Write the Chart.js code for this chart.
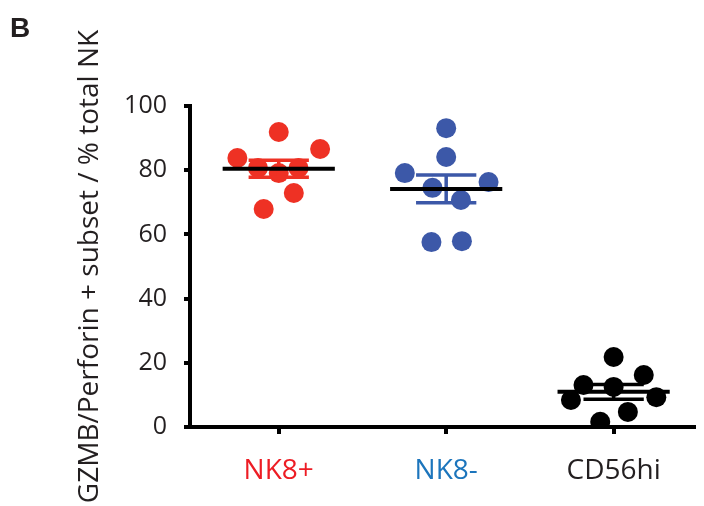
<!DOCTYPE html>
<html>
<head>
<meta charset="utf-8">
<script src="https://cdn.jsdelivr.net/npm/chart.js@4/dist/chart.umd.min.js"></script>
<style>
  html, body { margin: 0; padding: 0; background: #fff; }
  #wrap { position: relative; width: 704px; height: 506px; }
</style>
</head>
<body>
<div id="wrap"><canvas id="c"></canvas></div>
<script>
// ---- data ----
const categories = ['NK8+', 'NK8-', 'CD56hi'];
const nk8posValues = [91.9, 83.8, 86.6, 80.7, 79.1, 80.7, 72.9, 67.9];
const nk8negValues = [93.1, 84.1, 79.1, 76.3, 74.5, 70.7, 57.6, 57.9];
const cd56hiValues = [21.8, 16.2, 13.1, 12.5, 9.3, 8.4, 4.7, 1.6];
// horizontal scatter (beeswarm) offsets of each point within its column
const nk8posJitter = [0, -0.247, 0.247, -0.124, 0, 0.118, 0.09, -0.09];
const nk8negJitter = [0, 0, -0.247, 0.253, -0.082, 0.088, -0.088, 0.094];
const cd56hiJitter = [0, 0.18, -0.18, 0, 0.255, -0.255, 0.085, -0.08];
const yTicks = [0, 20, 40, 60, 80, 100];

const pointColors = ['#ee3124', '#3c58a8', '#000000'];
const labelColors = ['#ed1c24', '#1c75bc', '#231f20'];
const semColors = ['#ee3124', '#3c58a8', '#000000'];

const groups = [
  { values: nk8posValues, jitter: nk8posJitter },
  { values: nk8negValues, jitter: nk8negJitter },
  { values: cd56hiValues, jitter: cd56hiJitter }
];

function mean(a) { return a.reduce((s, v) => s + v, 0) / a.length; }
function sem(a) {
  const m = mean(a);
  const v = a.reduce((s, x) => s + (x - m) * (x - m), 0) / (a.length - 1);
  return Math.sqrt(v) / Math.sqrt(a.length);
}

const MEAN_HALF = 0.335, CAP_HALF = 0.18;
const datasets = [];
groups.forEach((g, i) => {
  const cx = i + 1;
  datasets.push({
    type: 'scatter',
    data: g.values.map((v, k) => ({ x: cx + g.jitter[k], y: v })),
    backgroundColor: pointColors[i],
    borderWidth: 0,
    pointRadius: 10,
    pointHoverRadius: 10,
    order: 2
  });
  const m = mean(g.values), s = sem(g.values);
  datasets.push({
    type: 'line',
    data: [
      { x: cx - CAP_HALF, y: m + s }, { x: cx + CAP_HALF, y: m + s }, { x: cx, y: null },
      { x: cx, y: m + s }, { x: cx, y: m - s }, { x: cx, y: null },
      { x: cx - CAP_HALF, y: m - s }, { x: cx + CAP_HALF, y: m - s }
    ],
    borderColor: semColors[i],
    borderWidth: 3.5,
    pointRadius: 0,
    spanGaps: false,
    order: 1
  });
  datasets.push({
    type: 'line',
    data: [{ x: cx - MEAN_HALF, y: m }, { x: cx + MEAN_HALF, y: m }],
    borderColor: '#000000',
    borderWidth: 4,
    pointRadius: 0,
    order: 0
  });
});

const panelLetter = {
  id: 'panelLetter',
  afterDraw(chart) {
    const ctx = chart.ctx;
    ctx.save();
    ctx.fillStyle = '#231f20';
    ctx.font = 'bold 28px "Liberation Sans", "Open Sans", sans-serif';
    ctx.textBaseline = 'alphabetic';
    ctx.textAlign = 'left';
    ctx.fillText('B', 10, 37);
    ctx.restore();
  }
};

new Chart(document.getElementById('c'), {
  type: 'scatter',
  data: { datasets },
  plugins: [panelLetter],
  options: {
    responsive: true,
    maintainAspectRatio: false,
    animation: false,
    layout: { padding: { top: 106, right: 4, left: 0, bottom: 0 } },
    plugins: { legend: { display: false }, tooltip: { enabled: false } },
    scales: {
      x: {
        type: 'linear',
        min: 0.47,
        max: 3.48,
        afterBuildTicks: (scale) => { scale.ticks = categories.map((c, i) => ({ value: i + 1 })); },
        afterFit: (scale) => { scale.height = 79; },
        ticks: {
          callback: (v) => categories[Math.round(v) - 1] || '',
          color: (ctx) => labelColors[ctx.index],
          font: { family: '"Open Sans", sans-serif', size: 28 },
          padding: 20,
          maxRotation: 0,
          autoSkip: false
        },
        grid: { drawOnChartArea: false, drawTicks: true, tickLength: 7, color: '#000', lineWidth: 4 },
        border: { display: true, color: '#000', width: 4 }
      },
      y: {
        min: 0,
        max: 100,
        afterBuildTicks: (scale) => { scale.ticks = yTicks.map(v => ({ value: v })); },
        afterFit: (scale) => { scale.width = 190; },
        ticks: {
          color: '#231f20',
          font: { family: '"Open Sans", sans-serif', size: 25 },
          padding: 17
        },
        grid: { drawOnChartArea: false, drawTicks: true, tickLength: 6, color: '#000', lineWidth: 4 },
        border: { display: true, color: '#000', width: 4 },
        title: {
          display: true,
          text: 'GZMB/Perforin + subset / % total NK',
          color: '#231f20',
          font: { family: '"Open Sans", sans-serif', size: 28 },
          padding: { top: 73, bottom: 0 }
        }
      }
    }
  }
});
</script>
</body>
</html>
